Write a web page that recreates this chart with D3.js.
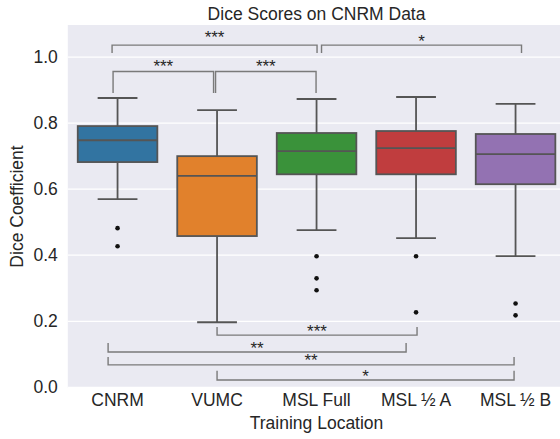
<!DOCTYPE html>
<html>
<head>
<meta charset="utf-8">
<script src="https://cdn.jsdelivr.net/npm/d3@7"></script>
<style>
  html, body { margin: 0; padding: 0; background: #ffffff; }
  svg { display: block; font-family: "Liberation Sans", Arial, sans-serif; }
</style>
</head>
<body>
<svg id="chart" width="560" height="439"></svg>
<script>
// ---- data ----
const categories = ["CNRM", "VUMC", "MSL Full", "MSL ½ A", "MSL ½ B"];
const colors = ["#3274A1", "#E1812C", "#3A923A", "#C03D3E", "#9372B2"];
const whiskerLow  = [0.570, 0.197, 0.476, 0.452, 0.397];
const q1          = [0.682, 0.458, 0.645, 0.645, 0.615];
const medians     = [0.748, 0.640, 0.715, 0.724, 0.706];
const q3          = [0.791, 0.700, 0.770, 0.776, 0.767];
const whiskerHigh = [0.876, 0.839, 0.873, 0.879, 0.858];
const outliers = [
  [0.482, 0.427],
  [],
  [0.397, 0.330, 0.294],
  [0.397, 0.227],
  [0.254, 0.218]
];
const yTicks = [0.0, 0.2, 0.4, 0.6, 0.8, 1.0];
// significance brackets: x1,x2 in category index units, line value, tick end value, label, label value
const brackets = [
  {x1: -0.055, x2: 2.005, y: 1.036, tip: 1.012, label: "***", ly: 1.072},
  {x1: -0.045, x2: 0.965, y: 0.956, tip: 0.891, label: "***", ly: 0.984},
  {x1: 0.985,  x2: 1.995, y: 0.956, tip: 0.891, label: "***", ly: 0.984},
  {x1: 2.05,   x2: 4.06,  y: 1.036, tip: 1.012, label: "*",   ly: 1.061},
  {x1: 1.0,    x2: 3.01,  y: 0.158, tip: 0.183, label: "***", ly: 0.183},
  {x1: -0.095, x2: 2.9,   y: 0.107, tip: 0.134, label: "**",  ly: 0.131},
  {x1: -0.095, x2: 3.985, y: 0.068, tip: 0.092, label: "**",  ly: 0.095},
  {x1: 1.0,    x2: 3.985, y: 0.022, tip: 0.050, label: "*",   ly: 0.046}
];

// ---- layout ----
const svg = d3.select("#chart");
const plotL = 67.8, plotR = 565.3, plotT = 25, plotB = 388;

const x = d3.scaleBand().domain(categories).range([plotL, plotR]).padding(0);
const y = d3.scaleLinear().domain([-0.002, 1.097]).range([plotB, plotT]);
const xi = d3.scaleLinear().domain([0, 4])
  .range([x(categories[0]) + x.bandwidth() / 2, x(categories[4]) + x.bandwidth() / 2]);

// background
svg.append("rect").attr("x", plotL).attr("y", plotT)
  .attr("width", plotR - plotL).attr("height", plotB - plotT).attr("fill", "#EAEAF2");

// grid
svg.append("g").selectAll("line").data(yTicks).join("line")
  .attr("x1", plotL).attr("x2", plotR)
  .attr("y1", d => y(d)).attr("y2", d => y(d))
  .attr("stroke", "#ffffff").attr("stroke-width", 1.3);

// y axis
const yAxis = d3.axisLeft(y).tickValues(yTicks).tickFormat(d3.format(".1f")).tickSize(0).tickPadding(10);
const gy = svg.append("g").attr("transform", `translate(${plotL},0)`).call(yAxis);
gy.select(".domain").remove();
gy.selectAll("text").attr("font-size", 17.5).attr("fill", "#262626")
  .attr("font-family", "Liberation Sans, Arial, sans-serif");

// x axis
const xAxis = d3.axisBottom(x).tickSize(0).tickPadding(6);
const gx = svg.append("g").attr("transform", `translate(0,${plotB})`).call(xAxis);
gx.select(".domain").remove();
gx.selectAll("text").attr("font-size", 17.5).attr("fill", "#262626")
  .attr("font-family", "Liberation Sans, Arial, sans-serif");

// boxes
const boxW = x.bandwidth() * 0.8;
const lineCol = "#555555";
const g = svg.append("g");
categories.forEach((c, i) => {
  const cx = x(c) + x.bandwidth() / 2;
  // whiskers
  g.append("line").attr("x1", cx).attr("x2", cx).attr("y1", y(q3[i])).attr("y2", y(whiskerHigh[i]))
    .attr("stroke", lineCol).attr("stroke-width", 1.8);
  g.append("line").attr("x1", cx).attr("x2", cx).attr("y1", y(q1[i])).attr("y2", y(whiskerLow[i]))
    .attr("stroke", lineCol).attr("stroke-width", 1.8);
  // caps
  [whiskerHigh[i], whiskerLow[i]].forEach(v => {
    g.append("line").attr("x1", cx - boxW / 4).attr("x2", cx + boxW / 4)
      .attr("y1", y(v)).attr("y2", y(v)).attr("stroke", lineCol).attr("stroke-width", 1.8);
  });
  // box
  g.append("rect").attr("x", cx - boxW / 2).attr("y", y(q3[i]))
    .attr("width", boxW).attr("height", y(q1[i]) - y(q3[i]))
    .attr("fill", colors[i]).attr("stroke", lineCol).attr("stroke-width", 1.8);
  // median
  g.append("line").attr("x1", cx - boxW / 2).attr("x2", cx + boxW / 2)
    .attr("y1", y(medians[i])).attr("y2", y(medians[i]))
    .attr("stroke", lineCol).attr("stroke-width", 1.8);
  // outliers
  g.selectAll(null).data(outliers[i]).join("circle")
    .attr("cx", cx).attr("cy", d => y(d)).attr("r", 2.3).attr("fill", "#111111");
});

// brackets
const bg = svg.append("g");
brackets.forEach(b => {
  const xa = xi(b.x1), xb = xi(b.x2);
  bg.append("path")
    .attr("d", `M${xa},${y(b.tip)}L${xa},${y(b.y)}L${xb},${y(b.y)}L${xb},${y(b.tip)}`)
    .attr("fill", "none").attr("stroke", "#7a7a7a").attr("stroke-width", 1.4);
  bg.append("text").attr("x", (xa + xb) / 2).attr("y", y(b.ly) + 0.57 * 17)
    .attr("text-anchor", "middle").attr("font-size", 17).attr("fill", "#262626")
    .text(b.label);
});

// title and labels
svg.append("text").attr("x", (plotL + plotR) / 2).attr("y", 19.5)
  .attr("text-anchor", "middle").attr("font-size", 17.5).attr("fill", "#262626")
  .text("Dice Scores on CNRM Data");
svg.append("text").attr("x", (plotL + plotR) / 2).attr("y", 429)
  .attr("text-anchor", "middle").attr("font-size", 17.5).attr("fill", "#262626")
  .text("Training Location");
svg.append("text").attr("transform", `translate(23,${(plotT + plotB) / 2}) rotate(-90)`)
  .attr("text-anchor", "middle").attr("font-size", 17.5).attr("fill", "#262626")
  .text("Dice Coefficient");
</script>
</body>
</html>
